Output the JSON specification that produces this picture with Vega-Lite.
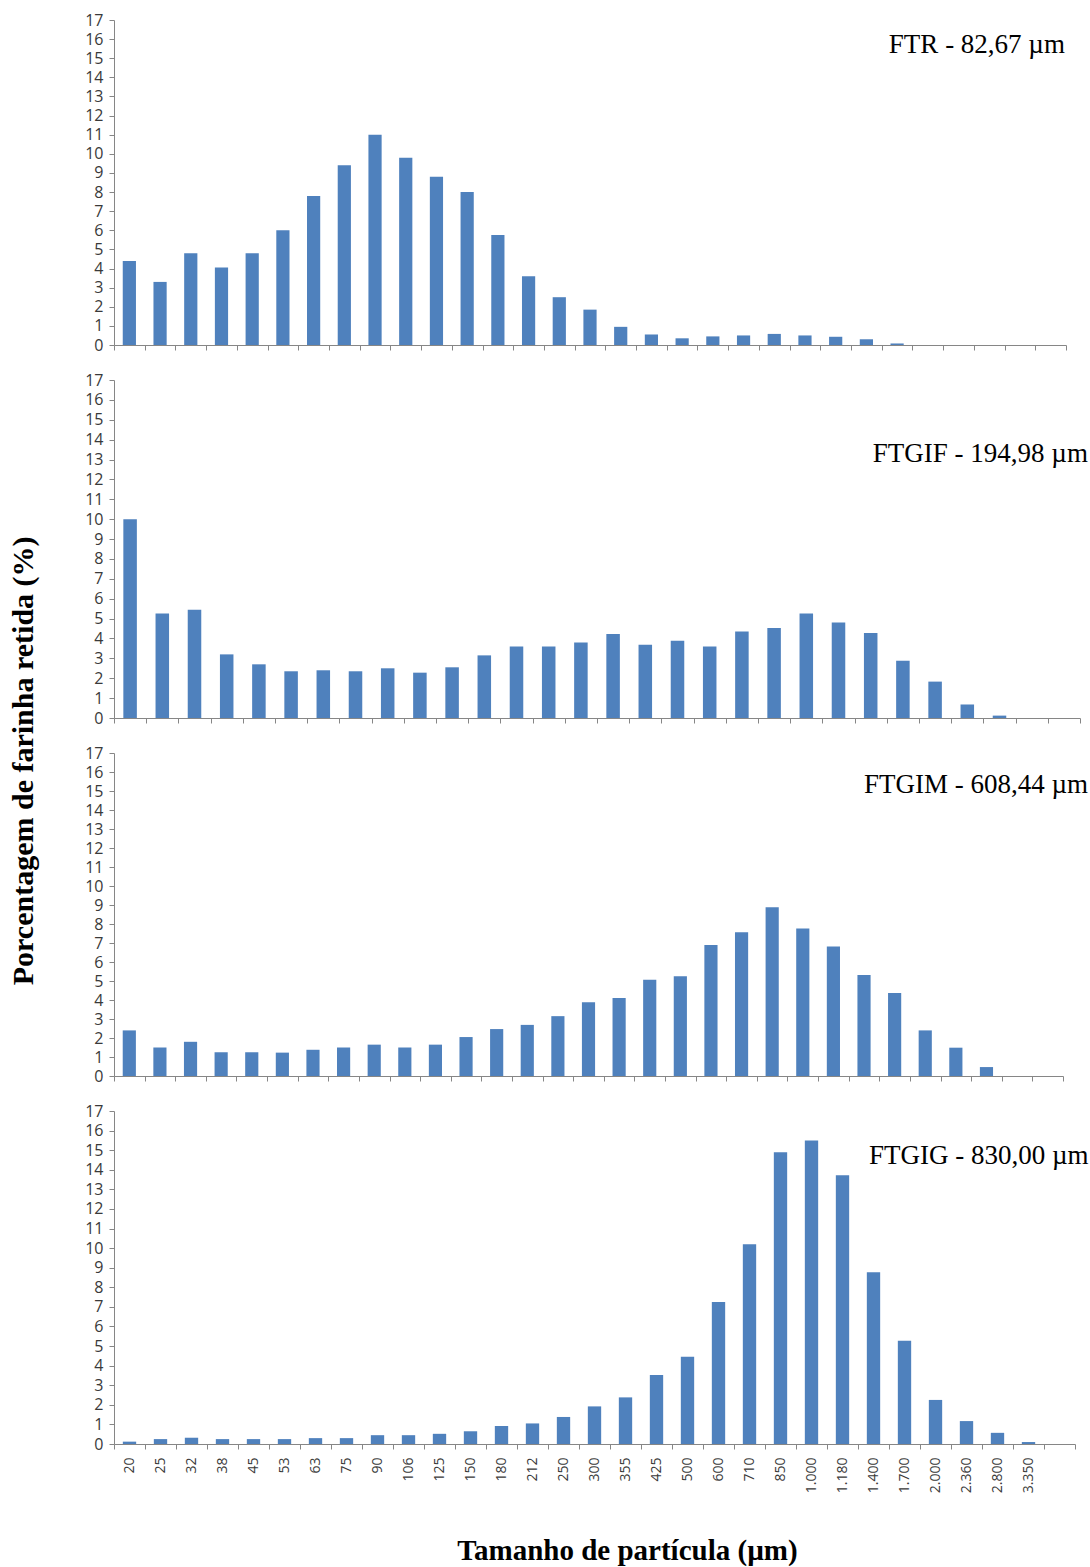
{
  "$schema": "https://vega.github.io/schema/vega-lite/v6.json",
  "padding": {"left": 8, "top": 12, "right": 0, "bottom": 0},
  "background": "white",
  "title": {"text": "Porcentagem de farinha retida (%)", "orient": "left", "anchor": "middle", "font": "Liberation Serif", "fontSize": 30, "fontWeight": "bold", "color": "black", "offset": 46, "dx": 28},
  "config": {
    "view": {"stroke": null},
    "axis": {"grid": false, "domainColor": "#868686", "tickColor": "#868686", "labelColor": "#3a3a3a", "labelFont": "Open Sans"},
    "axisX": {"tickBand": "extent", "tickSize": 5, "labelAngle": -90, "labelFontSize": 14, "labelPadding": 8},
    "axisY": {"tickSize": 5, "labelFontSize": 16, "labelPadding": 6, "labelOverlap": false},
    "text": {"font": "Liberation Serif", "fontSize": 27, "color": "black"}
  },
  "spacing": 35,
  "bounds": "flush",
  "datasets": {
    "dist": [
      {"amostra": "FTR", "tamanho": "20", "pct": 4.4},
      {"amostra": "FTR", "tamanho": "25", "pct": 3.3},
      {"amostra": "FTR", "tamanho": "32", "pct": 4.8},
      {"amostra": "FTR", "tamanho": "38", "pct": 4.05},
      {"amostra": "FTR", "tamanho": "45", "pct": 4.8},
      {"amostra": "FTR", "tamanho": "53", "pct": 6.0},
      {"amostra": "FTR", "tamanho": "63", "pct": 7.8},
      {"amostra": "FTR", "tamanho": "75", "pct": 9.4},
      {"amostra": "FTR", "tamanho": "90", "pct": 11.0},
      {"amostra": "FTR", "tamanho": "106", "pct": 9.8},
      {"amostra": "FTR", "tamanho": "125", "pct": 8.8},
      {"amostra": "FTR", "tamanho": "150", "pct": 8.0},
      {"amostra": "FTR", "tamanho": "180", "pct": 5.75},
      {"amostra": "FTR", "tamanho": "212", "pct": 3.6},
      {"amostra": "FTR", "tamanho": "250", "pct": 2.5},
      {"amostra": "FTR", "tamanho": "300", "pct": 1.85},
      {"amostra": "FTR", "tamanho": "355", "pct": 0.95},
      {"amostra": "FTR", "tamanho": "425", "pct": 0.55},
      {"amostra": "FTR", "tamanho": "500", "pct": 0.35},
      {"amostra": "FTR", "tamanho": "600", "pct": 0.45},
      {"amostra": "FTR", "tamanho": "710", "pct": 0.5},
      {"amostra": "FTR", "tamanho": "850", "pct": 0.58},
      {"amostra": "FTR", "tamanho": "1.000", "pct": 0.5},
      {"amostra": "FTR", "tamanho": "1.180", "pct": 0.43},
      {"amostra": "FTR", "tamanho": "1.400", "pct": 0.3},
      {"amostra": "FTR", "tamanho": "1.700", "pct": 0.08},
      {"amostra": "FTR", "tamanho": "2.000", "pct": 0},
      {"amostra": "FTR", "tamanho": "2.360", "pct": 0},
      {"amostra": "FTR", "tamanho": "2.800", "pct": 0},
      {"amostra": "FTR", "tamanho": "3.350", "pct": 0},
      {"amostra": "FTGIF", "tamanho": "20", "pct": 10.0},
      {"amostra": "FTGIF", "tamanho": "25", "pct": 5.25},
      {"amostra": "FTGIF", "tamanho": "32", "pct": 5.45},
      {"amostra": "FTGIF", "tamanho": "38", "pct": 3.2},
      {"amostra": "FTGIF", "tamanho": "45", "pct": 2.7},
      {"amostra": "FTGIF", "tamanho": "53", "pct": 2.35},
      {"amostra": "FTGIF", "tamanho": "63", "pct": 2.4},
      {"amostra": "FTGIF", "tamanho": "75", "pct": 2.35},
      {"amostra": "FTGIF", "tamanho": "90", "pct": 2.5},
      {"amostra": "FTGIF", "tamanho": "106", "pct": 2.28},
      {"amostra": "FTGIF", "tamanho": "125", "pct": 2.55},
      {"amostra": "FTGIF", "tamanho": "150", "pct": 3.15},
      {"amostra": "FTGIF", "tamanho": "180", "pct": 3.6},
      {"amostra": "FTGIF", "tamanho": "212", "pct": 3.6},
      {"amostra": "FTGIF", "tamanho": "250", "pct": 3.8},
      {"amostra": "FTGIF", "tamanho": "300", "pct": 4.22},
      {"amostra": "FTGIF", "tamanho": "355", "pct": 3.68},
      {"amostra": "FTGIF", "tamanho": "425", "pct": 3.88},
      {"amostra": "FTGIF", "tamanho": "500", "pct": 3.6},
      {"amostra": "FTGIF", "tamanho": "600", "pct": 4.35},
      {"amostra": "FTGIF", "tamanho": "710", "pct": 4.53},
      {"amostra": "FTGIF", "tamanho": "850", "pct": 5.25},
      {"amostra": "FTGIF", "tamanho": "1.000", "pct": 4.8},
      {"amostra": "FTGIF", "tamanho": "1.180", "pct": 4.27},
      {"amostra": "FTGIF", "tamanho": "1.400", "pct": 2.88},
      {"amostra": "FTGIF", "tamanho": "1.700", "pct": 1.83},
      {"amostra": "FTGIF", "tamanho": "2.000", "pct": 0.68},
      {"amostra": "FTGIF", "tamanho": "2.360", "pct": 0.12},
      {"amostra": "FTGIF", "tamanho": "2.800", "pct": 0},
      {"amostra": "FTGIF", "tamanho": "3.350", "pct": 0},
      {"amostra": "FTGIM", "tamanho": "20", "pct": 2.4},
      {"amostra": "FTGIM", "tamanho": "25", "pct": 1.5},
      {"amostra": "FTGIM", "tamanho": "32", "pct": 1.8},
      {"amostra": "FTGIM", "tamanho": "38", "pct": 1.25},
      {"amostra": "FTGIM", "tamanho": "45", "pct": 1.25},
      {"amostra": "FTGIM", "tamanho": "53", "pct": 1.23},
      {"amostra": "FTGIM", "tamanho": "63", "pct": 1.38},
      {"amostra": "FTGIM", "tamanho": "75", "pct": 1.5},
      {"amostra": "FTGIM", "tamanho": "90", "pct": 1.65},
      {"amostra": "FTGIM", "tamanho": "106", "pct": 1.5},
      {"amostra": "FTGIM", "tamanho": "125", "pct": 1.65},
      {"amostra": "FTGIM", "tamanho": "150", "pct": 2.05},
      {"amostra": "FTGIM", "tamanho": "180", "pct": 2.47},
      {"amostra": "FTGIM", "tamanho": "212", "pct": 2.69},
      {"amostra": "FTGIM", "tamanho": "250", "pct": 3.15},
      {"amostra": "FTGIM", "tamanho": "300", "pct": 3.88},
      {"amostra": "FTGIM", "tamanho": "355", "pct": 4.1},
      {"amostra": "FTGIM", "tamanho": "425", "pct": 5.07},
      {"amostra": "FTGIM", "tamanho": "500", "pct": 5.25},
      {"amostra": "FTGIM", "tamanho": "600", "pct": 6.9},
      {"amostra": "FTGIM", "tamanho": "710", "pct": 7.57},
      {"amostra": "FTGIM", "tamanho": "850", "pct": 8.88},
      {"amostra": "FTGIM", "tamanho": "1.000", "pct": 7.76},
      {"amostra": "FTGIM", "tamanho": "1.180", "pct": 6.82},
      {"amostra": "FTGIM", "tamanho": "1.400", "pct": 5.31},
      {"amostra": "FTGIM", "tamanho": "1.700", "pct": 4.37},
      {"amostra": "FTGIM", "tamanho": "2.000", "pct": 2.4},
      {"amostra": "FTGIM", "tamanho": "2.360", "pct": 1.49},
      {"amostra": "FTGIM", "tamanho": "2.800", "pct": 0.47},
      {"amostra": "FTGIM", "tamanho": "3.350", "pct": 0},
      {"amostra": "FTGIG", "tamanho": "20", "pct": 0.12},
      {"amostra": "FTGIG", "tamanho": "25", "pct": 0.25},
      {"amostra": "FTGIG", "tamanho": "32", "pct": 0.32},
      {"amostra": "FTGIG", "tamanho": "38", "pct": 0.25},
      {"amostra": "FTGIG", "tamanho": "45", "pct": 0.25},
      {"amostra": "FTGIG", "tamanho": "53", "pct": 0.25},
      {"amostra": "FTGIG", "tamanho": "63", "pct": 0.3},
      {"amostra": "FTGIG", "tamanho": "75", "pct": 0.3},
      {"amostra": "FTGIG", "tamanho": "90", "pct": 0.45},
      {"amostra": "FTGIG", "tamanho": "106", "pct": 0.45},
      {"amostra": "FTGIG", "tamanho": "125", "pct": 0.52},
      {"amostra": "FTGIG", "tamanho": "150", "pct": 0.65},
      {"amostra": "FTGIG", "tamanho": "180", "pct": 0.92},
      {"amostra": "FTGIG", "tamanho": "212", "pct": 1.05},
      {"amostra": "FTGIG", "tamanho": "250", "pct": 1.38},
      {"amostra": "FTGIG", "tamanho": "300", "pct": 1.92},
      {"amostra": "FTGIG", "tamanho": "355", "pct": 2.38},
      {"amostra": "FTGIG", "tamanho": "425", "pct": 3.52},
      {"amostra": "FTGIG", "tamanho": "500", "pct": 4.45},
      {"amostra": "FTGIG", "tamanho": "600", "pct": 7.25},
      {"amostra": "FTGIG", "tamanho": "710", "pct": 10.2},
      {"amostra": "FTGIG", "tamanho": "850", "pct": 14.9},
      {"amostra": "FTGIG", "tamanho": "1.000", "pct": 15.5},
      {"amostra": "FTGIG", "tamanho": "1.180", "pct": 13.72},
      {"amostra": "FTGIG", "tamanho": "1.400", "pct": 8.77},
      {"amostra": "FTGIG", "tamanho": "1.700", "pct": 5.27},
      {"amostra": "FTGIG", "tamanho": "2.000", "pct": 2.25},
      {"amostra": "FTGIG", "tamanho": "2.360", "pct": 1.17},
      {"amostra": "FTGIG", "tamanho": "2.800", "pct": 0.57},
      {"amostra": "FTGIG", "tamanho": "3.350", "pct": 0.1}
    ]
  },
  "vconcat": [
    {
      "width": 952, "height": 325,
      "data": {"name": "dist"},
      "transform": [{"filter": "datum.amostra === 'FTR'"}],
      "layer": [
        {
          "mark": {"type": "bar", "color": "#4F81BD", "width": {"band": 0.43}},
          "encoding": {
            "x": {"field": "tamanho", "type": "ordinal", "sort": null, "scale": {"domain": ["20","25","32","38","45","53","63","75","90","106","125","150","180","212","250","300","355","425","500","600","710","850","1.000","1.180","1.400","1.700","2.000","2.360","2.800","3.350"," "], "paddingInner": 0, "paddingOuter": 0}, "axis": {"labels": false, "title": null}},
            "y": {"field": "pct", "type": "quantitative", "scale": {"domain": [0, 17], "nice": false}, "axis": {"values": [0,1,2,3,4,5,6,7,8,9,10,11,12,13,14,15,16,17], "labelOverlap": false, "title": null}}
          }
        },
        {
          "transform": [{"filter": "datum.tamanho === '3.350'"}],
          "mark": {"type": "text", "align": "right", "baseline": "middle", "dx": 45},
          "encoding": {
            "x": {"datum": "3.350", "type": "ordinal", "axis": {"labels": false, "title": null}},
            "y": {"datum": 15.7, "type": "quantitative", "axis": {"values": [0,1,2,3,4,5,6,7,8,9,10,11,12,13,14,15,16,17], "labelOverlap": false, "title": null}},
            "text": {"value": "FTR - 82,67 µm"}
          }
        }
      ]
    },
    {
      "width": 966, "height": 338,
      "data": {"name": "dist"},
      "transform": [{"filter": "datum.amostra === 'FTGIF'"}],
      "layer": [
        {
          "mark": {"type": "bar", "color": "#4F81BD", "width": {"band": 0.42}},
          "encoding": {
            "x": {"field": "tamanho", "type": "ordinal", "sort": null, "scale": {"domain": ["20","25","32","38","45","53","63","75","90","106","125","150","180","212","250","300","355","425","500","600","710","850","1.000","1.180","1.400","1.700","2.000","2.360","2.800","3.350"], "paddingInner": 0, "paddingOuter": 0}, "axis": {"labels": false, "title": null}},
            "y": {"field": "pct", "type": "quantitative", "scale": {"domain": [0, 17], "nice": false}, "axis": {"values": [0,1,2,3,4,5,6,7,8,9,10,11,12,13,14,15,16,17], "labelOverlap": false, "title": null}}
          }
        },
        {
          "transform": [{"filter": "datum.tamanho === '3.350'"}],
          "mark": {"type": "text", "align": "right", "baseline": "middle", "dx": 24},
          "encoding": {
            "x": {"datum": "3.350", "type": "ordinal", "axis": {"labels": false, "title": null}},
            "y": {"datum": 13.3, "type": "quantitative", "axis": {"values": [0,1,2,3,4,5,6,7,8,9,10,11,12,13,14,15,16,17], "labelOverlap": false, "title": null}},
            "text": {"value": "FTGIF - 194,98 µm"}
          }
        }
      ]
    },
    {
      "width": 949, "height": 323,
      "data": {"name": "dist"},
      "transform": [{"filter": "datum.amostra === 'FTGIM'"}],
      "layer": [
        {
          "mark": {"type": "bar", "color": "#4F81BD", "width": {"band": 0.43}},
          "encoding": {
            "x": {"field": "tamanho", "type": "ordinal", "sort": null, "scale": {"domain": ["20","25","32","38","45","53","63","75","90","106","125","150","180","212","250","300","355","425","500","600","710","850","1.000","1.180","1.400","1.700","2.000","2.360","2.800","3.350"," "], "paddingInner": 0, "paddingOuter": 0}, "axis": {"labels": false, "title": null}},
            "y": {"field": "pct", "type": "quantitative", "scale": {"domain": [0, 17], "nice": false}, "axis": {"values": [0,1,2,3,4,5,6,7,8,9,10,11,12,13,14,15,16,17], "labelOverlap": false, "title": null}}
          }
        },
        {
          "transform": [{"filter": "datum.tamanho === '3.350'"}],
          "mark": {"type": "text", "align": "right", "baseline": "middle", "dx": 71},
          "encoding": {
            "x": {"datum": "3.350", "type": "ordinal", "axis": {"labels": false, "title": null}},
            "y": {"datum": 15.3, "type": "quantitative", "axis": {"values": [0,1,2,3,4,5,6,7,8,9,10,11,12,13,14,15,16,17], "labelOverlap": false, "title": null}},
            "text": {"value": "FTGIM - 608,44 µm"}
          }
        }
      ]
    },
    {
      "width": 961, "height": 333,
      "data": {"name": "dist"},
      "transform": [{"filter": "datum.amostra === 'FTGIG'"}],
      "layer": [
        {
          "mark": {"type": "bar", "color": "#4F81BD", "width": {"band": 0.43}},
          "encoding": {
            "x": {"field": "tamanho", "type": "ordinal", "sort": null, "scale": {"domain": ["20","25","32","38","45","53","63","75","90","106","125","150","180","212","250","300","355","425","500","600","710","850","1.000","1.180","1.400","1.700","2.000","2.360","2.800","3.350"," "], "paddingInner": 0, "paddingOuter": 0}, "axis": {"title": "Tamanho de partícula (µm)", "titleFont": "Liberation Serif", "titleFontSize": 29, "titleFontWeight": "bold", "titleColor": "black", "titlePadding": 44, "titleX": 513}},
            "y": {"field": "pct", "type": "quantitative", "scale": {"domain": [0, 17], "nice": false}, "axis": {"values": [0,1,2,3,4,5,6,7,8,9,10,11,12,13,14,15,16,17], "labelOverlap": false, "title": null}}
          }
        },
        {
          "transform": [{"filter": "datum.tamanho === '3.350'"}],
          "mark": {"type": "text", "align": "right", "baseline": "middle", "dx": 60},
          "encoding": {
            "x": {"datum": "3.350", "type": "ordinal", "axis": {"title": "Tamanho de partícula (µm)", "titleFont": "Liberation Serif", "titleFontSize": 29, "titleFontWeight": "bold", "titleColor": "black", "titlePadding": 44, "titleX": 513}},
            "y": {"datum": 14.7, "type": "quantitative", "axis": {"values": [0,1,2,3,4,5,6,7,8,9,10,11,12,13,14,15,16,17], "labelOverlap": false, "title": null}},
            "text": {"value": "FTGIG - 830,00 µm"}
          }
        }
      ]
    }
  ]
}
